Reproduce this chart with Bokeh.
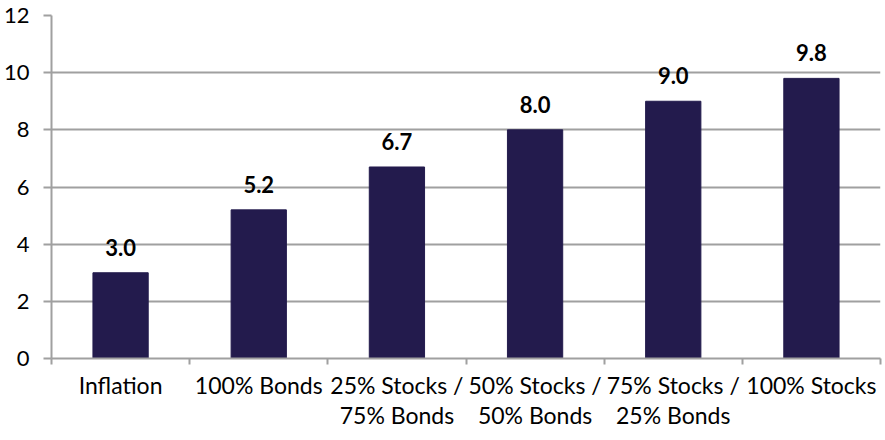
from bokeh.plotting import figure
from bokeh.models import ColumnDataSource, FixedTicker, LinearAxis, LabelSet, Range1d
from bokeh.core.properties import value
from bokeh.embed import file_html
from bokeh.resources import INLINE

categories = ["Inflation", "100% Bonds", "25% Stocks /\n75% Bonds", "50% Stocks /\n50% Bonds",
              "75% Stocks /\n25% Bonds", "100% Stocks"]
values = [3.0, 5.2, 6.7, 8.0, 9.0, 9.8]
y_ticks = [0, 2, 4, 6, 8, 10, 12]

FONT = "Lato"
GRID = "#a0a0a0"
BAR = "#231b4d"

xs = [i + 0.5 for i in range(len(categories))]
src = ColumnDataSource(dict(x=xs, top=values, lab=["%.1f" % v for v in values]))

p = figure(width=885, height=440, output_backend="svg", toolbar_location=None,
           x_range=Range1d(0, len(categories)), y_range=Range1d(0, 12),
           x_axis_location=None, y_axis_location=None,
           min_border_left=51, min_border_right=5, min_border_top=15, min_border_bottom=82)
p.outline_line_color = None
p.background_fill_color = "white"
p.border_fill_color = "white"

p.vbar(x="x", top="top", width=0.4, source=src, color=BAR)

# y axis
ya = LinearAxis(ticker=FixedTicker(ticks=y_ticks))
ya.axis_line_color = GRID
ya.axis_line_width = 2
ya.major_tick_line_color = GRID
ya.major_tick_line_width = 2
ya.major_tick_in = 0
ya.major_tick_out = 8
ya.minor_tick_line_color = None
ya.major_label_text_font = FONT
ya.major_label_text_font_size = "22px"
ya.major_label_text_color = "black"
ya.major_label_standoff = 14
p.add_layout(ya, "left")

# x axis: ticks at boundaries
xa = LinearAxis(ticker=FixedTicker(ticks=list(range(len(categories) + 1))))
xa.axis_line_color = GRID
xa.axis_line_width = 2
xa.major_tick_line_color = GRID
xa.major_tick_line_width = 2
xa.major_tick_in = 0
xa.major_tick_out = 6
xa.minor_tick_line_color = None
xa.major_label_text_font_size = "0px"
xa.major_label_overrides = {i: "" for i in range(len(categories) + 1)}
p.add_layout(xa, "below")

# x labels at centers
xl = LinearAxis(ticker=FixedTicker(ticks=xs))
xl.axis_line_color = None
xl.major_tick_line_color = None
xl.minor_tick_line_color = None
xl.major_label_overrides = {x: c for x, c in zip(xs, categories)}
xl.major_label_text_font = FONT
xl.major_label_text_font_size = "23px"
xl.major_label_text_color = "black"
xl.major_label_standoff = 0
xl.major_label_text_line_height = 1.1
p.add_layout(xl, "below")

p.xgrid.visible = False
p.ygrid.ticker = FixedTicker(ticks=y_ticks)
p.ygrid.grid_line_color = GRID
p.ygrid.grid_line_width = 2

labels = LabelSet(x="x", y="top", text="lab", source=src, y_offset=17,
                  text_align="center", text_baseline="bottom",
                  text_font=value(FONT), text_font_style="bold", text_font_size="22px",
                  text_color="black")
p.add_layout(labels)

open("out.html", "w").write(file_html(p, INLINE))
